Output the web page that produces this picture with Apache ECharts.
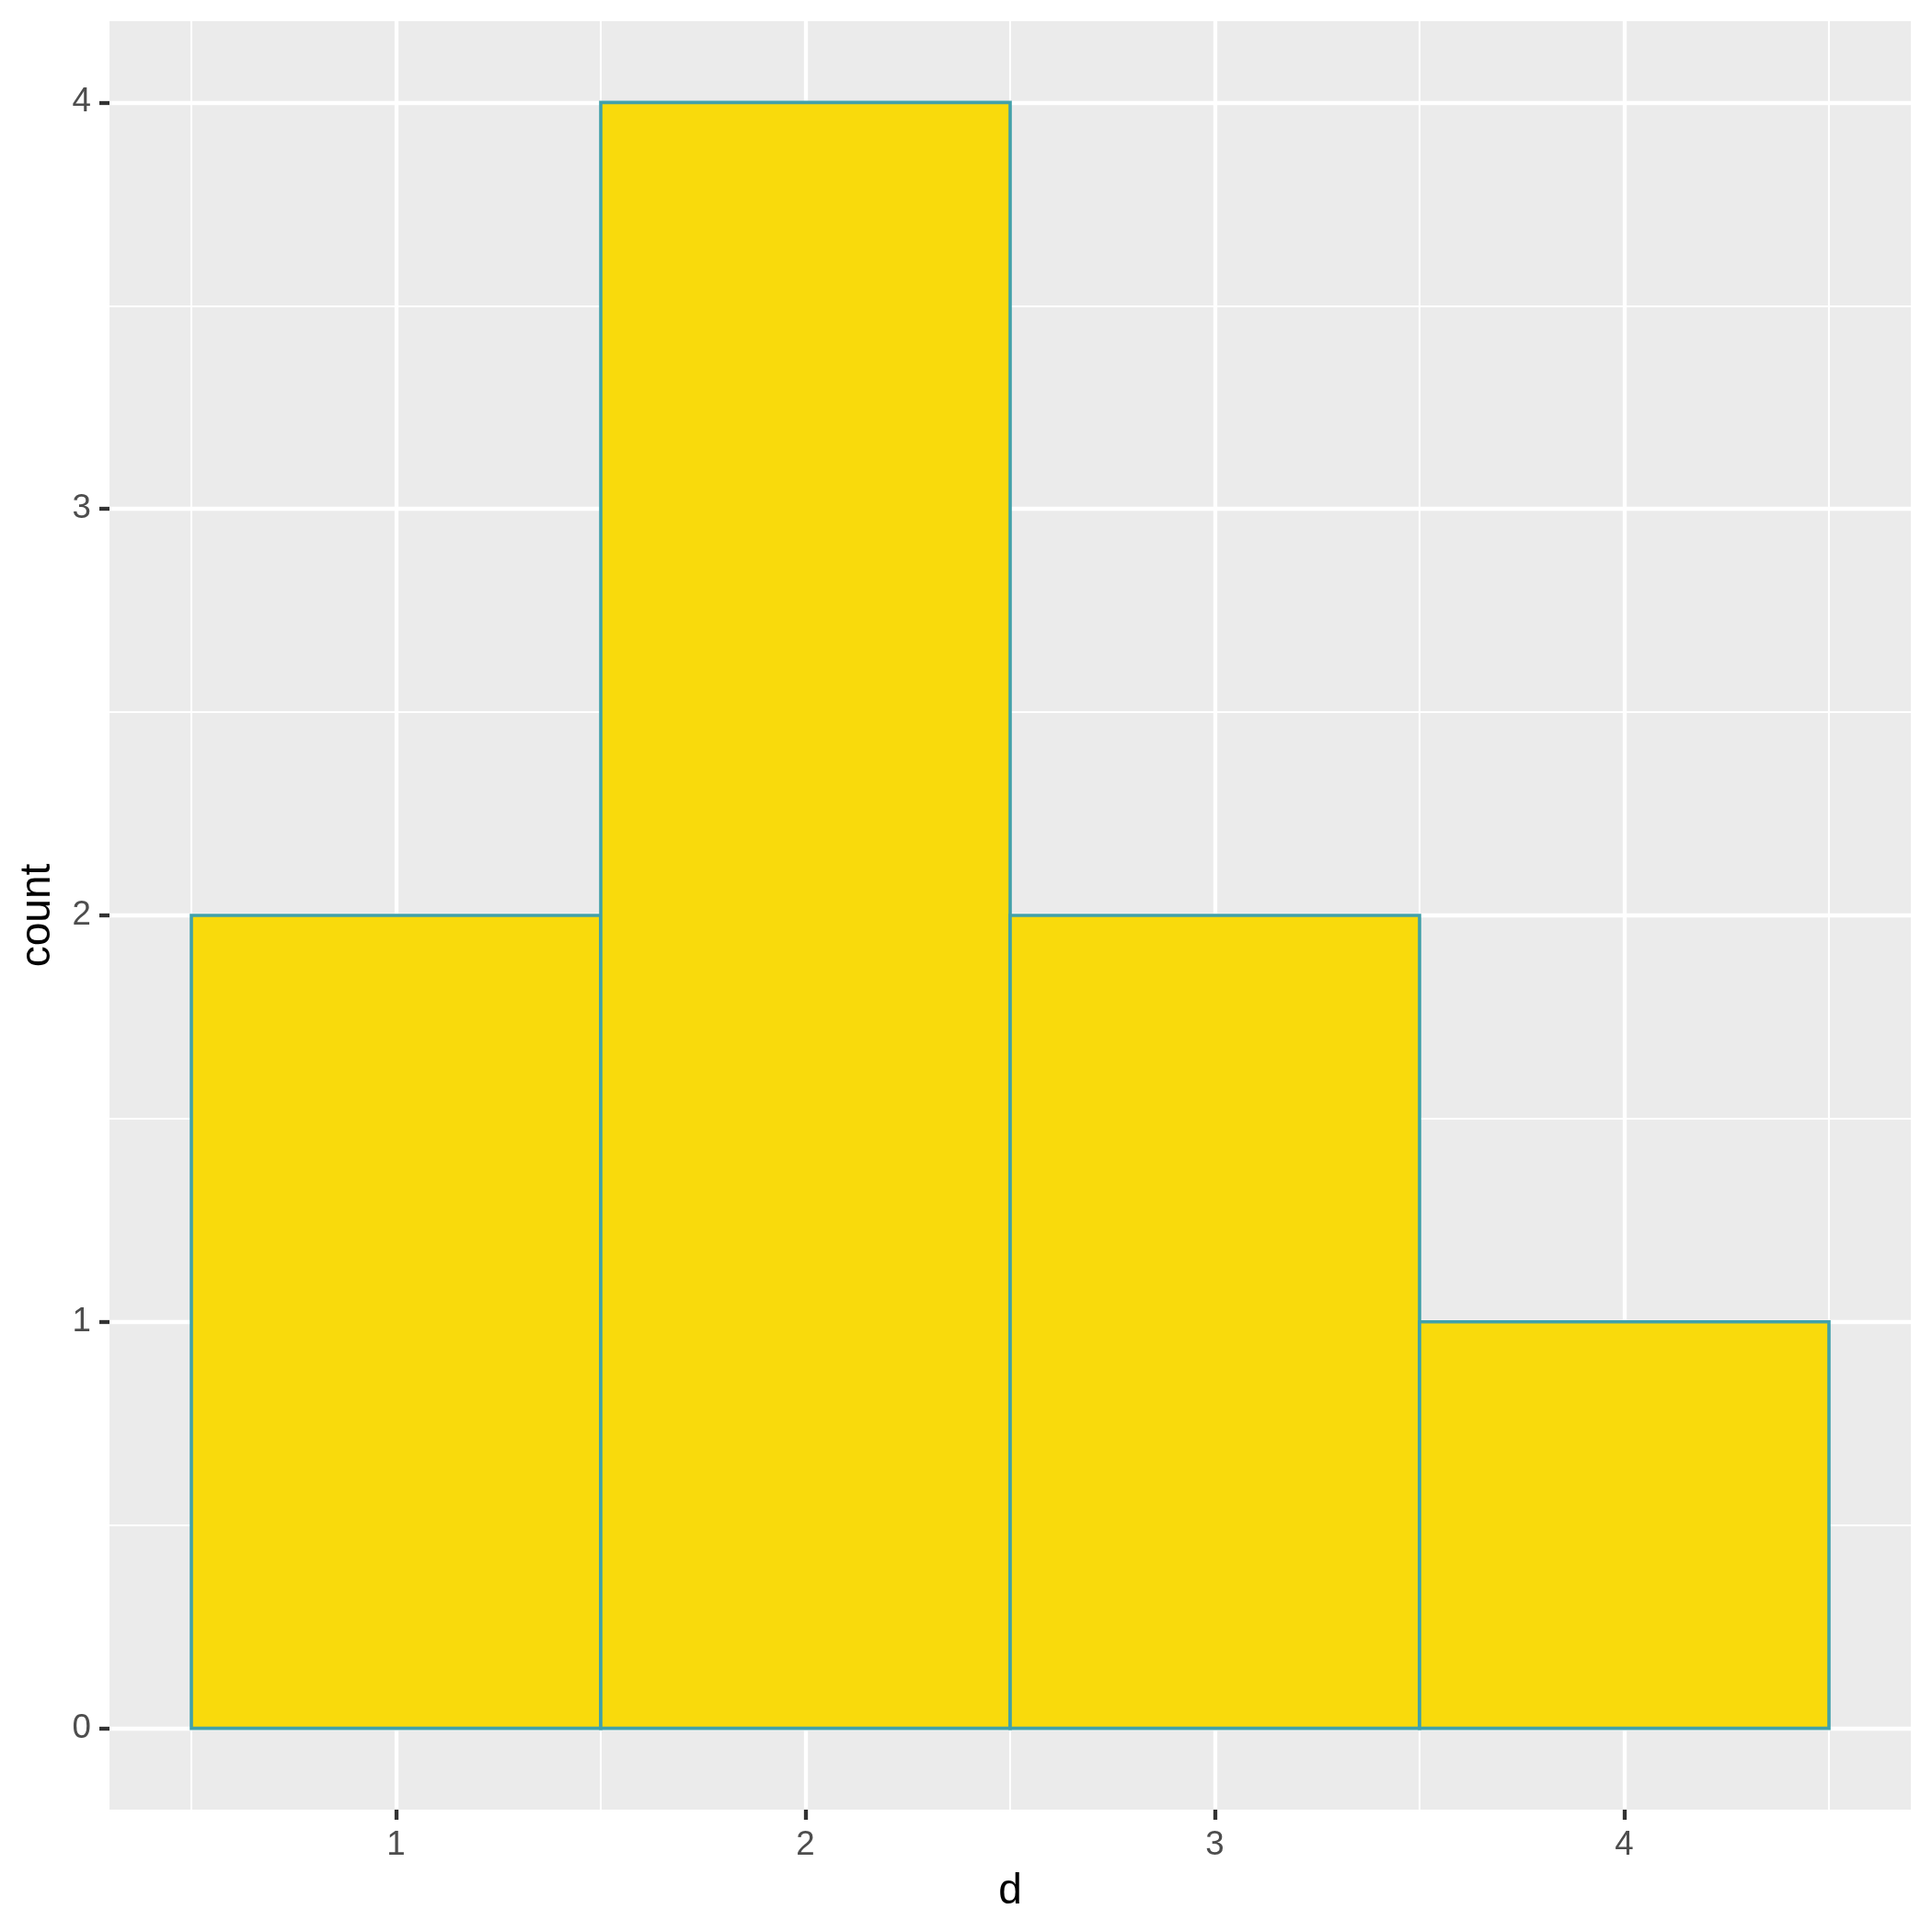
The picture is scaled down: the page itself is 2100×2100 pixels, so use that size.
<!DOCTYPE html>
<html>
<head>
<meta charset="utf-8">
<script src="https://cdn.jsdelivr.net/npm/echarts@6/dist/echarts.min.js"></script>
<style>html,body{margin:0;padding:0;background:#fff;}#c{width:2100px;height:2100px;}</style>
</head>
<body>
<div id="c"></div>
<script>
// Histogram bins (x from .. to) and counts
const binStart = [0.5, 1.5, 2.5, 3.5];
const binEnd   = [1.5, 2.5, 3.5, 4.5];
const counts   = [2, 4, 2, 1];
// Axis breaks
const xTicks = [1, 2, 3, 4];
const xMinor = [0.5, 1.5, 2.5, 3.5, 4.5];
const yTicks = [0, 1, 2, 3, 4];
const yMinor = [0.5, 1.5, 2.5, 3.5];

const FONT = '"Liberation Sans", Arial, Helvetica, sans-serif';
const chart = echarts.init(document.getElementById('c'), null, {renderer: 'canvas'});

const barData = binStart.map((s, i) => [s, binEnd[i], counts[i]]);

const option = {
  backgroundColor: '#ffffff',
  animation: false,
  grid: {left: 119, right: 23, top: 23, bottom: 133, show: true, backgroundColor: '#EBEBEB', borderWidth: 0},
  xAxis: [
    {
      type: 'value', min: 0.3, max: 4.7, position: 'bottom',
      name: 'd', nameLocation: 'middle', nameGap: 66,
      nameTextStyle: {fontFamily: FONT, fontSize: 46, color: '#000000'},
      axisLine: {show: false, onZero: false},
      axisTick: {show: true, customValues: xTicks, length: 11, lineStyle: {color: '#333333', width: 4.3}},
      axisLabel: {show: true, customValues: xTicks, margin: 20, fontFamily: FONT, fontSize: 36.7, color: '#4D4D4D'},
      splitLine: {show: true, lineStyle: {color: '#ffffff', width: 4.3}}
    },
    {
      type: 'value', min: 0.3, max: 4.7, position: 'bottom',
      axisLine: {show: false, onZero: false},
      axisTick: {show: false, customValues: xMinor},
      axisLabel: {show: false, customValues: xMinor},
      splitLine: {show: true, lineStyle: {color: '#ffffff', width: 2.1}}
    }
  ],
  yAxis: [
    {
      type: 'value', min: -0.2, max: 4.2, position: 'left',
      name: 'count', nameLocation: 'middle', nameGap: 55, nameRotate: 90,
      nameTextStyle: {fontFamily: FONT, fontSize: 46, color: '#000000'},
      axisLine: {show: false, onZero: false},
      axisTick: {show: true, customValues: yTicks, length: 11, lineStyle: {color: '#333333', width: 4.3}},
      axisLabel: {show: true, customValues: yTicks, margin: 20, fontFamily: FONT, fontSize: 36.7, color: '#4D4D4D'},
      splitLine: {show: true, lineStyle: {color: '#ffffff', width: 4.3}}
    },
    {
      type: 'value', min: -0.2, max: 4.2, position: 'left',
      axisLine: {show: false, onZero: false},
      axisTick: {show: false, customValues: yMinor},
      axisLabel: {show: false, customValues: yMinor},
      splitLine: {show: true, lineStyle: {color: '#ffffff', width: 2.1}}
    }
  ],
  series: [{
    type: 'custom',
    xAxisIndex: 0, yAxisIndex: 0,
    data: barData,
    encode: {x: [0, 1], y: 2},
    renderItem: function (params, api) {
      const p0 = api.coord([api.value(0), 0]);
      const p1 = api.coord([api.value(1), api.value(2)]);
      return {
        type: 'rect',
        shape: {x: p0[0], y: p1[1], width: p1[0] - p0[0], height: p0[1] - p1[1]},
        style: {fill: '#F9DA0C', stroke: '#42A1AA', lineWidth: 3.6}
      };
    }
  }]
};
chart.setOption(option);
</script>
</body>
</html>
